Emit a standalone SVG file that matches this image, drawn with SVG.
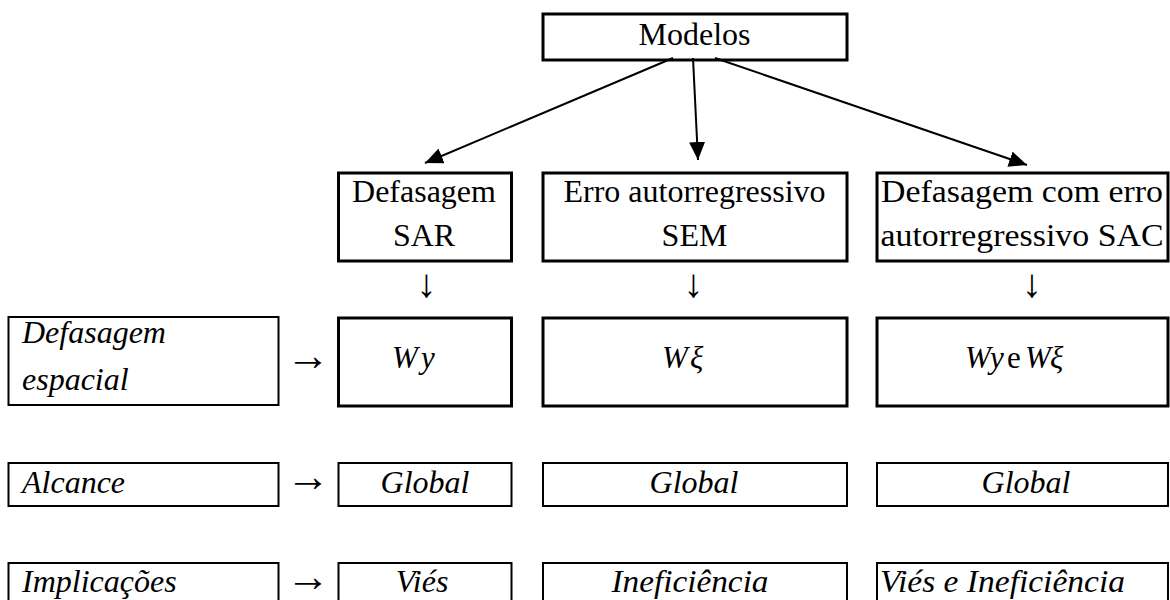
<svg xmlns="http://www.w3.org/2000/svg" width="1170" height="600" viewBox="0 0 1170 600">
<style>
.b3{fill:#fff;stroke:#000;stroke-width:3}
.b2{fill:#fff;stroke:#000;stroke-width:2}
text{font-family:"Liberation Serif","Times New Roman",serif;font-size:32px;fill:#000}
.c{text-anchor:middle}
.i{font-style:italic}
.m{font-style:italic;font-size:31px}
.ar{font-size:44px;text-anchor:middle}
.da{font-size:40px;text-anchor:middle}
.ln{stroke:#000;stroke-width:2;fill:none}
</style>
<defs>
<marker id="ah" markerUnits="userSpaceOnUse" markerWidth="20" markerHeight="16" refX="18" refY="8" orient="auto">
<path d="M0,0 L18,8 L0,16 z" fill="#000"/>
</marker>
</defs>
<rect width="1170" height="600" fill="#fff"/>

<g id="modelos">
<rect class="b3" x="543" y="14" width="304" height="46"/>
<text class="c" x="694.5" y="45">Modelos</text>
</g>

<g id="sar">
<rect class="b3" x="338.5" y="173" width="173" height="88"/>
<text class="c" x="424" y="202">Defasagem</text>
<text class="c" x="424" y="246">SAR</text>
</g>
<g id="sem">
<rect class="b3" x="543" y="173" width="304" height="88"/>
<text class="c" x="694.5" y="202">Erro autorregressivo</text>
<text class="c" x="694.5" y="246">SEM</text>
</g>
<g id="sac">
<rect class="b3" x="877" y="173" width="291" height="88"/>
<text class="c" x="1022" y="202" textLength="282" lengthAdjust="spacingAndGlyphs">Defasagem com erro</text>
<text class="c" x="1022" y="246" textLength="283" lengthAdjust="spacingAndGlyphs">autorregressivo SAC</text>
</g>

<g id="label-defasagem">
<rect class="b2" x="8.5" y="317" width="270" height="88"/>
<text class="i" x="22" y="343">Defasagem</text>
<text class="i" x="22" y="390">espacial</text>
</g>
<g id="sar-wy">
<rect class="b3" x="338.5" y="318" width="173" height="88"/>
<text class="m" y="368"><tspan x="392">W</tspan><tspan x="421">y</tspan></text>
</g>
<g id="sem-wxi">
<rect class="b3" x="543" y="318" width="304" height="88"/>
<text class="m" y="368"><tspan x="662">W</tspan><tspan x="690">ξ</tspan></text>
</g>
<g id="sac-wy-wxi">
<rect class="b3" x="877" y="318" width="291" height="88"/>
<text class="m" y="368"><tspan x="965">W</tspan><tspan x="990">y</tspan><tspan x="1007" font-style="normal">e</tspan><tspan x="1025">W</tspan><tspan x="1050">ξ</tspan></text>
</g>

<g id="label-alcance">
<rect class="b2" x="8.5" y="463" width="270" height="43"/>
<text class="i" x="22" y="493">Alcance</text>
</g>
<g id="sar-global">
<rect class="b2" x="338.5" y="463" width="173" height="43"/>
<text class="i c" x="425" y="493">Global</text>
</g>
<g id="sem-global">
<rect class="b2" x="543" y="463" width="304" height="43"/>
<text class="i c" x="694" y="493">Global</text>
</g>
<g id="sac-global">
<rect class="b2" x="877" y="463" width="291" height="43"/>
<text class="i c" x="1026" y="493">Global</text>
</g>

<g id="label-implicacoes">
<rect class="b2" x="8.5" y="563" width="270" height="45"/>
<text class="i" x="22" y="592">Implicações</text>
</g>
<g id="sar-vies">
<rect class="b2" x="338.5" y="563" width="173" height="45"/>
<text class="i c" x="422" y="592">Viés</text>
</g>
<g id="sem-ineficiencia">
<rect class="b2" x="543" y="563" width="304" height="45"/>
<text class="i c" x="690" y="592" textLength="157" lengthAdjust="spacingAndGlyphs">Ineficiência</text>
</g>
<g id="sac-vies-ineficiencia">
<rect class="b2" x="877" y="563" width="291" height="45"/>
<text class="i" x="880" y="592" textLength="245" lengthAdjust="spacingAndGlyphs">Viés e Ineficiência</text>
</g>

<g id="connectors">
<line class="ln" x1="673" y1="58" x2="425" y2="163" marker-end="url(#ah)"/>
<line class="ln" x1="693" y1="58" x2="698" y2="160" marker-end="url(#ah)"/>
<line class="ln" x1="715" y1="58" x2="1027" y2="165" marker-end="url(#ah)"/>
<text class="da" x="426.5" y="297">↓</text>
<text class="da" x="693.5" y="297">↓</text>
<text class="da" x="1032" y="297">↓</text>
<text class="ar" x="308" y="370">→</text>
<text class="ar" x="308" y="491">→</text>
<text class="ar" x="308" y="591">→</text>
</g>
</svg>
